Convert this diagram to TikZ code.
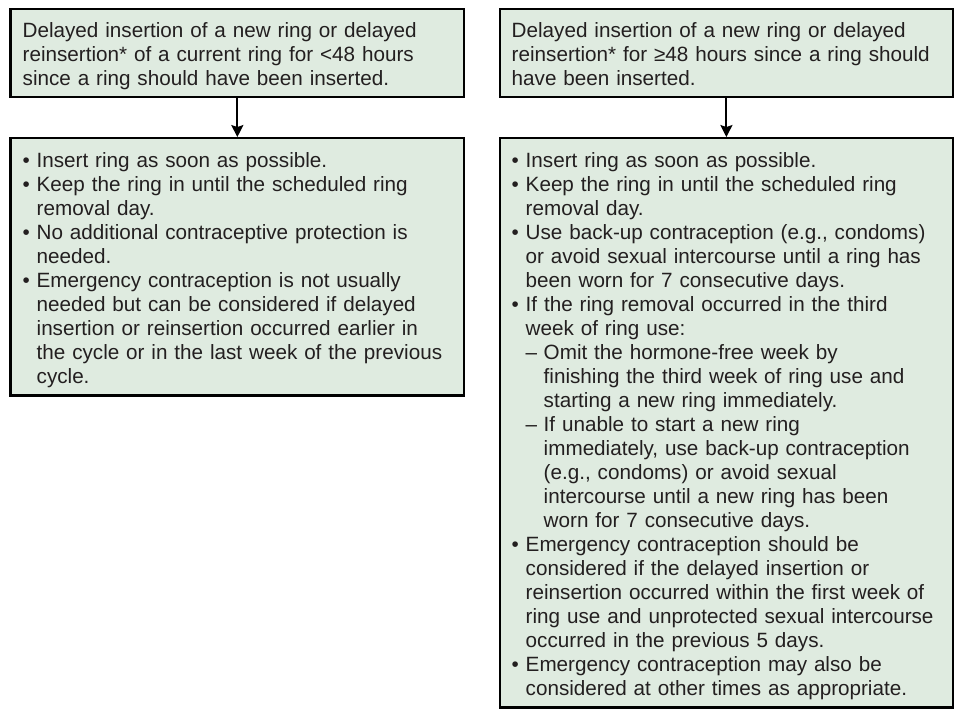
\documentclass[tikz,border=0pt]{standalone}
\usepackage{fontspec}
\setmainfont{Liberation Sans}
\usetikzlibrary{arrows.meta,positioning}
\definecolor{boxfill}{RGB}{223,235,224}
\definecolor{ink}{RGB}{35,31,32}
\newcommand{\ringstrut}{\rule{0pt}{17pt}}
\newcommand{\ringend}{\rule[-5pt]{0pt}{5pt}\par}
\newcommand{\ringitem}{\par\leftskip=3pt\hangindent=10.5pt\hangafter=1\noindent\makebox[10.5pt][l]{\textbullet}}
\newcommand{\ringsub}{\par\leftskip=3pt\hangindent=24pt\hangafter=1\noindent\hspace*{10.5pt}\makebox[13.5pt][l]{\textendash}}

\begin{document}
\begin{tikzpicture}[font=\fontsize{15.5pt}{18pt}\selectfont,
  box/.style={draw=black,line width=1.8pt,fill=boxfill,text=ink,text width=328pt,
    inner xsep=6pt,inner ysep=4pt},
  arr/.style={line width=1.5pt,-{Stealth[length=9pt,width=9pt,inset=1.5pt]}}]
\useasboundingbox (0,0) rectangle (715.5pt,-531.75pt);
\node[box,anchor=north west] (q1) at (7.1pt,-6pt)
  {\noindent\leftskip=3pt\ringstrut Delayed insertion of a new ring or delayed\newline
   reinsertion* of a current ring for <48 hours\newline
   since a ring should have been inserted.\ringend};
\node[box,right=25pt of q1] (q2)
  {\noindent\leftskip=3pt\ringstrut Delayed insertion of a new ring or delayed\newline
   reinsertion* for ≥48 hours since a ring should\newline
   have been inserted.\ringend};
\node[box,below=29pt of q1] (a1)
  {\ringitem\ringstrut Insert ring as soon as possible.
   \ringitem Keep the ring in until the scheduled ring\newline removal day.
   \ringitem No additional contraceptive protection is\newline needed.
   \ringitem Emergency contraception is not usually\newline needed but can be considered if delayed\newline
     insertion or reinsertion occurred earlier in\newline the cycle or in the last week of the previous\newline
     cycle.\ringend};
\node[box,below=29pt of q2] (a2)
  {\ringitem\ringstrut Insert ring as soon as possible.
   \ringitem Keep the ring in until the scheduled ring\newline removal day.
   \ringitem Use back-up contraception (e.g., condoms)\newline or avoid sexual intercourse until a ring has\newline
     been worn for 7 consecutive days.
   \ringitem If the ring removal occurred in the third\newline week of ring use:
   \ringsub Omit the hormone-free week by\newline finishing the third week of ring use and\newline
     starting a new ring immediately.
   \ringsub If unable to start a new ring\newline immediately, use back-up contraception\newline
     (e.g., condoms) or avoid sexual\newline intercourse until a new ring has been\newline
     worn for 7 consecutive days.
   \ringitem Emergency contraception should be\newline considered if the delayed insertion or\newline
     reinsertion occurred within the first week of\newline ring use and unprotected sexual intercourse\newline
     occurred in the previous 5 days.
   \ringitem Emergency contraception may also be\newline considered at other times as appropriate.\ringend};
\draw[arr] (q1) -- (a1);
\draw[arr] (q2) -- (a2);
\end{tikzpicture}
\end{document}
